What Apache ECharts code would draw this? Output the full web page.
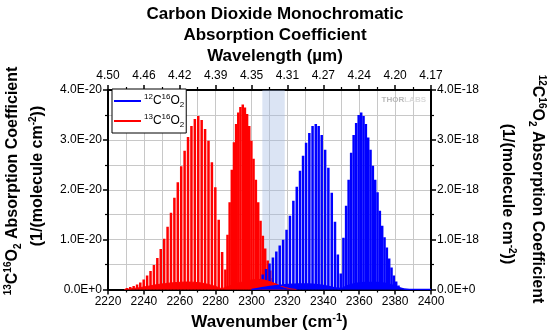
<!DOCTYPE html>
<html>
<head>
<meta charset="utf-8">
<script src="https://cdn.jsdelivr.net/npm/echarts@6/dist/echarts.min.js"></script>
<style>
  html, body { margin: 0; padding: 0; background: #fff; }
  #chart { width: 550px; height: 336px; }
</style>
</head>
<body>
<div id="chart"></div>
<script>
// ---- axes ----------------------------------------------------------------
const wavenumberRange = [2220, 2400];              // cm^-1
const wavelengthLabels = ['4.50', '4.46', '4.42', '4.39', '4.35', '4.31', '4.27', '4.24', '4.20', '4.17'];
const leftAxisLabels = ['0.0E+0', '1.0E-20', '2.0E-20', '3.0E-20', '4.0E-20'];
const rightAxisLabels = ['0.0E+0', '1.0E-18', '2.0E-18', '3.0E-18', '4.0E-18'];

// ---- 13C16O2 lines: position (cm^-1), strength (x 1e-20) -----------------
const c13LinePos = [
  2230.5, 2232.4, 2234.3, 2236.2, 2238.0, 2239.9, 2241.8, 2243.7, 2245.6, 2247.5,
  2249.4, 2251.3, 2253.2, 2255.1, 2257.0, 2258.9, 2260.8, 2262.7, 2264.6, 2266.5,
  2268.4, 2270.3, 2272.2, 2274.1, 2276.0, 2277.9, 2279.8, 2281.7, 2283.6,
  2285.4, 2286.6, 2287.8, 2289.0, 2290.2, 2291.4, 2292.6, 2293.8, 2295.1, 2296.3,
  2297.5, 2298.7, 2299.9, 2301.1, 2302.4, 2303.7, 2305.0, 2306.3, 2307.6, 2309.0,
  2310.4, 2311.8, 2313.2, 2314.6, 2316.0
];
const c13LineVal = [
  0.03, 0.05, 0.07, 0.10, 0.14, 0.20, 0.28, 0.37, 0.49, 0.63,
  0.81, 1.02, 1.26, 1.54, 1.84, 2.15, 2.47, 2.78, 3.06, 3.28,
  3.42, 3.48, 3.40, 3.22, 2.98, 2.55, 2.05, 1.40, 0.75,
  0.40, 1.10, 1.75, 2.40, 2.95, 3.32, 3.55, 3.66, 3.71, 3.65,
  3.52, 3.28, 2.98, 2.62, 2.20, 1.75, 1.38, 1.08, 0.82, 0.58,
  0.38, 0.23, 0.13, 0.07, 0.03
];
// weak hot-band background under the 13C16O2 lines (x 1e-20)
const c13BackPos = [2229, 2234, 2240, 2246, 2252, 2258, 2264, 2270, 2275, 2280, 2283.5, 2286, 2290, 2295, 2300, 2305, 2309, 2313, 2317, 2321, 2325];
const c13BackVal = [0, 0.02, 0.05, 0.09, 0.12, 0.14, 0.15, 0.14, 0.11, 0.06, 0.02, 0.05, 0.10, 0.15, 0.19, 0.20, 0.17, 0.12, 0.06, 0.02, 0];

// ---- 12C16O2 lines: position (cm^-1), strength (x 1e-18) -----------------
const c12LinePos = [
  2300.5, 2302.4, 2304.3, 2306.2, 2308.1, 2310.0, 2311.9, 2313.8, 2315.7, 2317.6,
  2319.5, 2321.4, 2323.3, 2325.2, 2327.0, 2328.7, 2330.4, 2332.2, 2334.0, 2335.8,
  2337.4, 2339.1, 2341.0, 2342.8, 2344.7, 2346.5, 2348.1, 2349.7,
  2351.2, 2352.7, 2354.1, 2355.5, 2356.9, 2358.3, 2359.7, 2361.1, 2362.4, 2363.7,
  2365.0, 2366.3, 2367.6, 2368.9, 2370.2, 2371.5, 2372.8, 2374.1, 2375.4, 2376.7,
  2378.0, 2379.3, 2380.6, 2381.9, 2383.2
];
const c12LineVal = [
  0.07, 0.13, 0.21, 0.30, 0.41, 0.52, 0.64, 0.76, 0.88, 1.00,
  1.20, 1.48, 1.78, 2.06, 2.38, 2.68, 2.94, 3.14, 3.28, 3.32,
  3.28, 3.10, 2.80, 2.44, 1.94, 1.36, 0.70, 0.32,
  1.04, 1.68, 2.20, 2.74, 3.10, 3.34, 3.50, 3.55, 3.48, 3.32,
  3.05, 2.80, 2.48, 2.20, 1.95, 1.58, 1.28, 1.05, 0.84, 0.62,
  0.44, 0.28, 0.16, 0.08, 0.03
];
// weak hot-band background under the 12C16O2 lines (x 1e-18)
const c12BackPos = [2300, 2305, 2310, 2315, 2320, 2326, 2332, 2338, 2343, 2347, 2350, 2353, 2358, 2364, 2370, 2375, 2379, 2382, 2385, 2388, 2400];
const c12BackVal = [0, 0.03, 0.06, 0.08, 0.10, 0.11, 0.11, 0.09, 0.06, 0.03, 0.02, 0.07, 0.12, 0.14, 0.14, 0.12, 0.08, 0.04, 0.01, 0, 0];

// highlighted wavenumber window
const bandWindow = [2306, 2318.5];

// ---- styling --------------------------------------------------------------
const FONT = 'Arial, "Liberation Sans", Helvetica, sans-serif';
const BLUE = '#0000ff';
const RED = '#ff0000';
const GRID = '#c8c8c8';
const LINE_WIDTH_PX = 2.5;

const zip = (a, b) => a.map((v, i) => [v, b[i]]);

// one spectral line = a thin rectangle from zero up to its strength
function lineRenderer(color) {
  return function (params, api) {
    const x = api.value(0);
    const base = api.coord([x, 0]);
    const top = api.coord([x, api.value(1)]);
    return {
      type: 'rect',
      shape: { x: base[0] - LINE_WIDTH_PX / 2, y: top[1], width: LINE_WIDTH_PX, height: base[1] - top[1] },
      style: { fill: color }
    };
  };
}

// rich styles for graphic (zrender) texts
const titleRich = {
  t: { fontFamily: FONT, fontSize: 16, fontWeight: 'bold', lineHeight: 20, fill: '#000' },
  sup: { fontFamily: FONT, fontSize: 10, fontWeight: 'bold', lineHeight: 10, verticalAlign: 'top', fill: '#000' },
  sub: { fontFamily: FONT, fontSize: 10, fontWeight: 'bold', lineHeight: 10, verticalAlign: 'bottom', fill: '#000' }
};
// rich styles for component texts
const xNameRich = {
  t: { fontFamily: FONT, fontSize: 17, fontWeight: 'bold', lineHeight: 20, color: '#000' },
  sup: { fontFamily: FONT, fontSize: 11, fontWeight: 'bold', lineHeight: 10, verticalAlign: 'top', color: '#000' }
};
const legendRich = {
  t: { fontFamily: FONT, fontSize: 12, lineHeight: 16, color: '#000' },
  sup: { fontFamily: FONT, fontSize: 8, lineHeight: 8, verticalAlign: 'top', color: '#000' },
  sub: { fontFamily: FONT, fontSize: 8, lineHeight: 8, verticalAlign: 'bottom', color: '#000' }
};
const legendText = {
  '12C16O2': '{sup|12}{t|C}{sup|16}{t|O}{sub|2}',
  '13C16O2': '{sup|13}{t|C}{sup|16}{t|O}{sub|2}'
};

const axisCommon = {
  type: 'value',
  min: wavenumberRange[0],
  max: wavenumberRange[1],
  interval: 20,
  axisLine: { show: true, onZero: false, lineStyle: { color: '#000', width: 2 } },
  axisTick: { show: true, inside: false, length: 5, lineStyle: { color: '#000', width: 1.5 } },
  minorTick: { show: true, splitNumber: 2, length: 3, lineStyle: { color: '#000', width: 1.2 } }
};

const chart = echarts.init(document.getElementById('chart'), null, { renderer: 'canvas' });

chart.setOption({
  animation: false,
  backgroundColor: '#fff',
  title: {
    text: 'Carbon Dioxide Monochromatic\nAbsorption Coefficient',
    left: 'center',
    top: -1,
    textStyle: { fontFamily: FONT, fontSize: 17, fontWeight: 'bold', lineHeight: 21, color: '#000' }
  },
  grid: { left: 108, right: 119, top: 90, bottom: 45.5, containLabel: false },
  legend: {
    orient: 'vertical',
    left: 112,
    top: 89,
    padding: [4, 2, 4, 2],
    itemGap: 4,
    itemWidth: 27,
    itemHeight: 2,
    borderColor: '#000',
    borderWidth: 1,
    borderRadius: 0,
    backgroundColor: '#fff',
    data: [{ name: '12C16O2', icon: 'rect' }, { name: '13C16O2', icon: 'rect' }],
    formatter: (name) => legendText[name],
    textStyle: { rich: legendRich, padding: [0, 0, 0, -2] }
  },
  xAxis: [
    Object.assign({}, axisCommon, {
      position: 'bottom',
      name: '{t|Wavenumber (cm}{sup|-1}{t|)}',
      nameLocation: 'middle',
      nameGap: 23,
      nameTextStyle: { rich: xNameRich },
      splitLine: { show: true, lineStyle: { color: GRID, width: 1 } },
      minorSplitLine: { show: true, lineStyle: { color: GRID, width: 1 } },
      axisLabel: { fontFamily: FONT, fontSize: 12, color: '#000', margin: 6, formatter: (v) => String(v) }
    }),
    Object.assign({}, axisCommon, {
      position: 'top',
      name: 'Wavelength (µm)',
      nameLocation: 'middle',
      nameGap: 19,
      nameTextStyle: { fontFamily: FONT, fontSize: 17, fontWeight: 'bold', color: '#000', padding: [0, 0, 0, 11] },
      splitLine: { show: false },
      axisLabel: {
        fontFamily: FONT, fontSize: 12, color: '#000', margin: 8,
        formatter: (v) => wavelengthLabels[Math.round((v - wavenumberRange[0]) / 20)]
      }
    })
  ],
  yAxis: [
    {
      type: 'value', position: 'left', min: 0, max: 4, interval: 1,
      axisLine: { show: true, onZero: false, lineStyle: { color: '#000', width: 2 } },
      axisTick: { show: true, inside: false, length: 5, lineStyle: { color: '#000', width: 1.5 } },
      minorTick: { show: true, splitNumber: 2, length: 3, lineStyle: { color: '#000', width: 1.2 } },
      splitLine: { show: true, lineStyle: { color: GRID, width: 1 } },
      minorSplitLine: { show: true, lineStyle: { color: GRID, width: 1 } },
      axisLabel: { fontFamily: FONT, fontSize: 12, color: '#000', margin: 6, formatter: (v) => leftAxisLabels[Math.round(v)] }
    },
    {
      type: 'value', position: 'right', min: 0, max: 4, interval: 1,
      axisLine: { show: true, onZero: false, lineStyle: { color: '#000', width: 2 } },
      axisTick: { show: true, inside: false, length: 5, lineStyle: { color: '#000', width: 1.5 } },
      minorTick: { show: true, splitNumber: 2, length: 3, lineStyle: { color: '#000', width: 1.2 } },
      splitLine: { show: false },
      axisLabel: { fontFamily: FONT, fontSize: 12, color: '#000', margin: 6, formatter: (v) => rightAxisLabels[Math.round(v)] }
    }
  ],
  graphic: [
    { type: 'text', x: 13, y: 181, rotation: Math.PI / 2,
      style: { text: '{sup|13}{t|C}{sup|16}{t|O}{sub|2}{t| Absorption Coefficient}', rich: titleRich, align: 'center', verticalAlign: 'middle' } },
    { type: 'text', x: 38, y: 176, rotation: Math.PI / 2,
      style: { text: '{t|(1/(molecule cm}{sup|-2}{t|))}', rich: titleRich, align: 'center', verticalAlign: 'middle' } },
    { type: 'text', x: 537, y: 189, rotation: -Math.PI / 2,
      style: { text: '{sup|12}{t|C}{sup|16}{t|O}{sub|2}{t| Absorption Coefficient}', rich: titleRich, align: 'center', verticalAlign: 'middle' } },
    { type: 'text', x: 507, y: 194, rotation: -Math.PI / 2,
      style: { text: '{t|(1/(molecule cm}{sup|-2}{t|))}', rich: titleRich, align: 'center', verticalAlign: 'middle' } },
    { type: 'text', x: 426, y: 100, z: 5,
      style: {
        text: '{a|THOR}{b|LABS}', align: 'right', verticalAlign: 'middle', fill: '#c4c4c4',
        rich: {
          a: { fontFamily: FONT, fontSize: 8, fontWeight: 'bold', fill: '#b8b8b8' },
          b: { fontFamily: FONT, fontSize: 8, fontWeight: 'bold', fill: '#dadada' }
        }
      } }
  ],
  series: [
    {
      // highlighted window
      type: 'line', xAxisIndex: 0, yAxisIndex: 0, data: [], silent: true,
      markArea: {
        silent: true,
        itemStyle: { color: 'rgba(160,185,225,0.38)' },
        data: [[{ xAxis: bandWindow[0] }, { xAxis: bandWindow[1] }]]
      }
    },
    {
      name: '13C16O2', type: 'line', xAxisIndex: 0, yAxisIndex: 0,
      data: zip(c13BackPos, c13BackVal), showSymbol: false, smooth: 0.3,
      lineStyle: { color: RED, width: 1 }, areaStyle: { color: RED, opacity: 1 },
      itemStyle: { color: RED }, silent: true
    },
    {
      name: '13C16O2', type: 'custom', xAxisIndex: 0, yAxisIndex: 0,
      data: zip(c13LinePos, c13LineVal), encode: { x: 0, y: 1 },
      renderItem: lineRenderer(RED), itemStyle: { color: RED }, clip: true, silent: true
    },
    {
      name: '12C16O2', type: 'line', xAxisIndex: 0, yAxisIndex: 1,
      data: zip(c12BackPos, c12BackVal), showSymbol: false, smooth: 0.3,
      lineStyle: { color: BLUE, width: 1.5 }, areaStyle: { color: BLUE, opacity: 1 },
      itemStyle: { color: BLUE }, silent: true
    },
    {
      name: '12C16O2', type: 'custom', xAxisIndex: 0, yAxisIndex: 1,
      data: zip(c12LinePos, c12LineVal), encode: { x: 0, y: 1 },
      renderItem: lineRenderer(BLUE), itemStyle: { color: BLUE }, clip: true, silent: true
    }
  ]
});
</script>
</body>
</html>
